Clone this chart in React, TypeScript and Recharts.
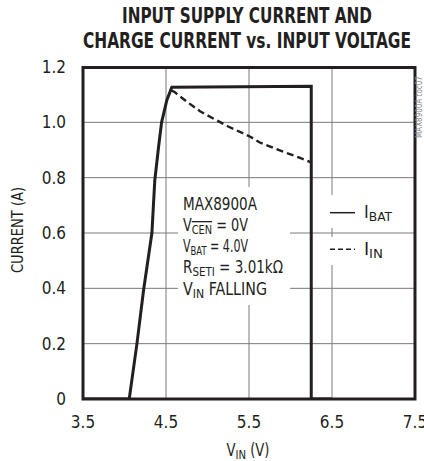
import React from 'react';
import { LineChart, Line, XAxis, YAxis, CartesianGrid } from 'recharts';

const batV = [3.5, 4.057, 4.15, 4.23, 4.33, 4.365, 4.41, 4.447, 4.51, 4.57, 6.25, 6.25, 6.5];
const batI = [0, 0, 0.2, 0.394, 0.6, 0.79, 0.91, 1.0, 1.08, 1.127, 1.13, 0, 0];
const inV = [4.565, 4.6, 4.75, 4.91, 5.0, 5.25, 5.51, 5.63, 5.91, 6.1, 6.25];
const inI = [1.115, 1.11, 1.075, 1.04, 1.025, 0.985, 0.949, 0.927, 0.894, 0.873, 0.855];
const xTicks = [3.5, 4.5, 5.5, 6.5, 7.5];
const yTicks = [0, 0.2, 0.4, 0.6, 0.8, 1.0, 1.2];

const batData = batV.map((v, k) => ({ v, i: batI[k] }));
const inData = inV.map((v, k) => ({ v, i: inI[k] }));

const FONT = "'Liberation Sans Narrow', 'DejaVu Sans Condensed', 'Roboto Condensed', 'Liberation Sans', Roboto, sans-serif";
const INK = '#231f20';

const XTick = (props: any) => {
  const { x, payload } = props;
  return (
    <text x={x} y={428} textAnchor="middle" fontFamily={FONT} fontSize={17} fill={INK}>
      {Number(payload.value).toFixed(1)}
    </text>
  );
};

const YTick = (props: any) => {
  const { y, payload } = props;
  const v = Number(payload.value);
  return (
    <text x={66} y={y + 6} textAnchor="end" fontFamily={FONT} fontSize={17} fill={INK}>
      {v === 0 ? '0' : v.toFixed(1)}
    </text>
  );
};

export default function App() {
  return (
    <div style={{ position: 'absolute', left: 0, top: 0, width: 424, height: 461, background: '#fff' }}>
      <LineChart width={424} height={461} margin={{ top: 67, right: 9, bottom: 0, left: 0 }}>
        <CartesianGrid stroke="#7a7a7a" strokeWidth={1} />
        <XAxis
          type="number"
          dataKey="v"
          domain={[3.5, 7.5]}
          ticks={xTicks}
          height={62}
          axisLine={false}
          tickLine={false}
          tick={<XTick />}
          interval={0}
          allowDataOverflow
        />
        <YAxis
          type="number"
          domain={[0, 1.2]}
          ticks={yTicks}
          width={83}
          axisLine={false}
          tickLine={false}
          tick={<YTick />}
          interval={0}
          allowDataOverflow
        />
        <Line data={batData} dataKey="i" type="linear" stroke={INK} strokeWidth={3} dot={false} isAnimationActive={false} />
        <Line data={inData} dataKey="i" type="linear" stroke={INK} strokeWidth={2.4} strokeDasharray="7 4" dot={false} isAnimationActive={false} />
      </LineChart>
      <svg width={424} height={461} style={{ position: 'absolute', left: 0, top: 0, pointerEvents: 'none' }}>
        <rect x={178} y={187} width={112} height={118} fill="#fff" />
        <rect x={322} y={195} width={86} height={33} fill="#fff" />
        <rect x={322} y={237} width={86} height={28} fill="#fff" />
        <rect x={83} y={67.5} width={332} height={331.5} fill="none" stroke={INK} strokeWidth={3} />
        <g fontFamily={FONT} fill={INK}>
          <text x={247} y={23} textAnchor="middle" fontSize={21} fontWeight="bold" textLength={250} lengthAdjust="spacingAndGlyphs">INPUT SUPPLY CURRENT AND</text>
          <text x={247} y={48} textAnchor="middle" fontSize={21} fontWeight="bold" textLength={328} lengthAdjust="spacingAndGlyphs">CHARGE CURRENT vs. INPUT VOLTAGE</text>
          <text x={183} y={210} fontSize={17} textLength={74} lengthAdjust="spacingAndGlyphs">MAX8900A</text>
          <text x={183} y={231} fontSize={17} textLength={65} lengthAdjust="spacingAndGlyphs">
            <tspan>V</tspan>
            <tspan fontSize={13} dy={3} textDecoration="overline">CEN</tspan>
            <tspan dy={-3}> = 0V</tspan>
          </text>
          <text x={183} y={252} fontSize={17} textLength={65} lengthAdjust="spacingAndGlyphs">
            <tspan>V</tspan>
            <tspan fontSize={13} dy={3}>BAT</tspan>
            <tspan dy={-3}> = 4.0V</tspan>
          </text>
          <text x={183} y={273} fontSize={17} textLength={100} lengthAdjust="spacingAndGlyphs">
            <tspan>R</tspan>
            <tspan fontSize={13} dy={3}>SETI</tspan>
            <tspan dy={-3}> = 3.01kΩ</tspan>
          </text>
          <text x={183} y={295} fontSize={17} textLength={84} lengthAdjust="spacingAndGlyphs">
            <tspan>V</tspan>
            <tspan fontSize={13} dy={3}>IN</tspan>
            <tspan dy={-3}> FALLING</tspan>
          </text>
          <text x={364} y={218} fontSize={17} textLength={28} lengthAdjust="spacingAndGlyphs">
            <tspan>I</tspan>
            <tspan fontSize={13} dy={3}>BAT</tspan>
          </text>
          <text x={364} y={255} fontSize={17} textLength={19} lengthAdjust="spacingAndGlyphs">
            <tspan>I</tspan>
            <tspan fontSize={13} dy={3}>IN</tspan>
          </text>
          <text x={248} y={456} textAnchor="middle" fontSize={17} textLength={43} lengthAdjust="spacingAndGlyphs">
            <tspan>V</tspan>
            <tspan fontSize={13} dy={3}>IN</tspan>
            <tspan dy={-3}> (V)</tspan>
          </text>
          <text x={23} y={230} textAnchor="middle" fontSize={16} textLength={86} lengthAdjust="spacingAndGlyphs" transform="rotate(-90 23 230)">CURRENT (A)</text>
          <text x={422} y={107} textAnchor="middle" fontSize={8} fill="#888" transform="rotate(-90 422 107)">MAX8900A toc07</text>
        </g>
        <line x1={330} y1={212.7} x2={355} y2={212.7} stroke={INK} strokeWidth={1.5} />
        <line x1={330} y1={249.3} x2={355} y2={249.3} stroke={INK} strokeWidth={1.5} strokeDasharray="5 3" />
      </svg>
    </div>
  );
}
